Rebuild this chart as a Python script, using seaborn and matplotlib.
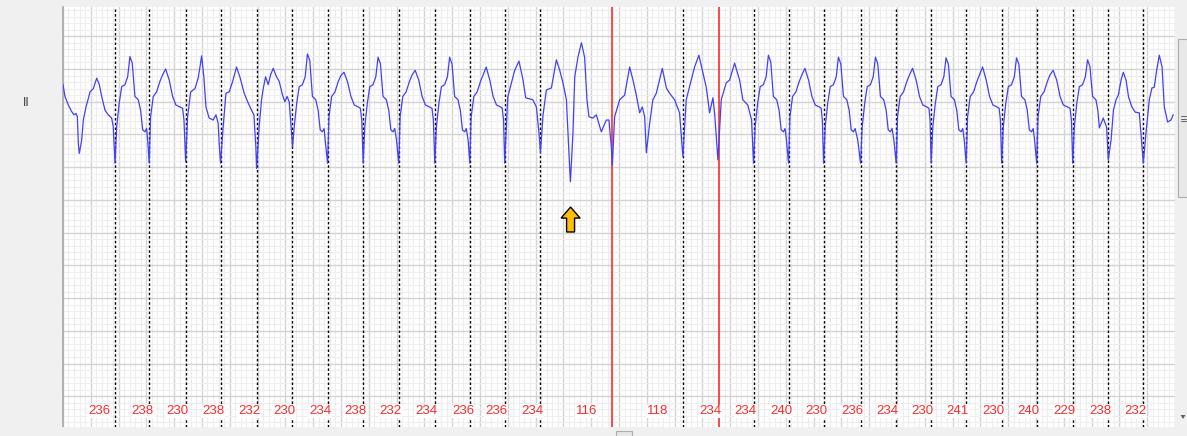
import numpy as np
import pandas as pd
import seaborn as sns
import matplotlib.pyplot as plt
from matplotlib.patches import Rectangle, FancyArrow, Polygon

sns.set_style("white")

# lead II trace: time in s (25 mm/s), amplitude in mV (10 mm/mV)
ecg_t = [
    0.000, 0.015, 0.039, 0.063, 0.080, 0.094, 0.104, 0.111,
    0.118, 0.135, 0.147, 0.166, 0.183, 0.195, 0.219, 0.243, 0.262, 0.279, 0.303, 0.326, 0.351, 0.362,
    0.375, 0.387, 0.405, 0.423, 0.446, 0.466, 0.482, 0.499, 0.518, 0.542, 0.559, 0.574, 0.590, 0.602, 0.610,
    0.621, 0.631, 0.650, 0.674, 0.698, 0.717, 0.739, 0.765, 0.789, 0.813, 0.842, 0.861, 0.871,
    0.883, 0.897, 0.919, 0.950, 0.973, 0.986, 0.998, 1.014, 1.029, 1.052, 1.081, 1.101, 1.117, 1.124,
    1.134, 1.153, 1.173, 1.196, 1.221, 1.249, 1.273, 1.304, 1.333, 1.357, 1.374, 1.388,
    1.393, 1.412, 1.429, 1.441, 1.458, 1.477, 1.494, 1.513, 1.537, 1.556, 1.580, 1.597, 1.613, 1.628, 1.645,
    1.652, 1.664, 1.682, 1.700, 1.723, 1.743, 1.759, 1.776, 1.795, 1.819, 1.836, 1.851, 1.867, 1.879, 1.887,
    1.904, 1.914, 1.933, 1.957, 1.981, 2.000, 2.022, 2.048, 2.072, 2.096, 2.125, 2.140, 2.150,
    2.160, 2.172, 2.190, 2.208, 2.231, 2.251, 2.267, 2.284, 2.303, 2.327, 2.344, 2.359, 2.375, 2.387, 2.400,
    2.416, 2.426, 2.445, 2.469, 2.493, 2.512, 2.534, 2.560, 2.584, 2.608, 2.637, 2.655, 2.665,
    2.675, 2.687, 2.705, 2.723, 2.746, 2.766, 2.782, 2.799, 2.818, 2.842, 2.859, 2.874, 2.890, 2.902, 2.915,
    2.927, 2.937, 2.956, 2.980, 3.004, 3.023, 3.045, 3.071, 3.095, 3.119, 3.148, 3.160, 3.170,
    3.178, 3.200, 3.250, 3.281, 3.310, 3.329, 3.380, 3.406, 3.425,
    3.435, 3.454, 3.478, 3.514, 3.550, 3.574, 3.597, 3.622, 3.646,
    3.651, 3.669, 3.682, 3.705, 3.730, 3.753, 3.770, 3.784, 3.813, 3.837, 3.873, 3.909, 3.928, 3.945,
    3.952, 3.969, 4.005, 4.041, 4.077, 4.101, 4.125, 4.149, 4.168, 4.185,
    4.197, 4.221, 4.244, 4.269, 4.312, 4.341, 4.364, 4.400, 4.436,
    4.460, 4.484, 4.520, 4.544, 4.575, 4.604, 4.628, 4.652, 4.676, 4.688,
    4.712, 4.736, 4.772, 4.796, 4.832, 4.868, 4.891, 4.927, 4.954,
    4.968, 4.980, 4.998, 5.016, 5.039, 5.059, 5.075, 5.092, 5.111, 5.135, 5.152, 5.167, 5.183, 5.195, 5.205,
    5.220, 5.230, 5.249, 5.273, 5.297, 5.316, 5.338, 5.364, 5.388, 5.412, 5.441, 5.455, 5.463,
    5.472, 5.484, 5.502, 5.520, 5.543, 5.563, 5.579, 5.596, 5.615, 5.639, 5.656, 5.671, 5.687, 5.699, 5.718,
    5.738, 5.750, 5.768, 5.786, 5.809, 5.829, 5.845, 5.862, 5.881, 5.905, 5.922, 5.937, 5.953, 5.965, 5.978,
    5.994, 6.004, 6.023, 6.047, 6.071, 6.090, 6.112, 6.138, 6.162, 6.186, 6.215, 6.230, 6.238,
    6.246, 6.258, 6.276, 6.294, 6.317, 6.337, 6.353, 6.370, 6.389, 6.413, 6.430, 6.445, 6.461, 6.473, 6.484,
    6.498, 6.508, 6.527, 6.551, 6.575, 6.594, 6.616, 6.642, 6.666, 6.690, 6.719, 6.735, 6.744,
    6.753, 6.765, 6.783, 6.801, 6.824, 6.844, 6.860, 6.877, 6.896, 6.920, 6.937, 6.952, 6.968, 6.980, 6.990,
    7.005, 7.015, 7.034, 7.058, 7.082, 7.101, 7.123, 7.149, 7.173, 7.197, 7.226, 7.245, 7.255,
    7.264, 7.276, 7.294, 7.312, 7.335, 7.355, 7.371, 7.388, 7.407, 7.431, 7.445, 7.456, 7.484, 7.508,
    7.520, 7.540, 7.557, 7.576, 7.592, 7.612, 7.628, 7.648, 7.666, 7.690, 7.714, 7.743, 7.755,
    7.772, 7.791, 7.815, 7.834, 7.851, 7.868, 7.887, 7.907, 7.923, 7.947, 7.971, 7.987,
]
ecg_mv = [
    0.27, 0.08, -0.05, -0.15, -0.20, -0.18, -0.23, -0.64,
    -0.79, -0.59, -0.28, -0.08, 0.05, 0.15, 0.20, 0.36, 0.26, 0.08, -0.13, -0.20, -0.25, -0.38,
    -0.94, -0.38, -0.02, 0.23, 0.26, 0.38, 0.69, 0.59, 0.08, 0.03, -0.13, -0.43, -0.46, -0.41, -0.59,
    -0.94, -0.23, 0.08, 0.15, 0.31, 0.41, 0.50, 0.33, 0.08, -0.05, -0.08, -0.10, -0.28,
    -0.92, -0.23, 0.15, 0.20, 0.36, 0.53, 0.70, 0.38, -0.08, -0.25, -0.28, -0.20, -0.33, -0.64,
    -0.94, -0.38, 0.13, 0.15, 0.31, 0.53, 0.38, 0.13, -0.02, -0.13, -0.20, -0.69,
    -1.02, -0.38, 0.03, 0.20, 0.38, 0.26, 0.41, 0.51, 0.38, 0.31, 0.10, 0.00, 0.08, 0.00, -0.48,
    -0.69, -0.38, -0.02, 0.23, 0.26, 0.38, 0.73, 0.63, 0.08, 0.03, -0.13, -0.43, -0.46, -0.41, -0.59,
    -0.94, -0.23, 0.08, 0.15, 0.31, 0.40, 0.45, 0.30, 0.08, -0.05, -0.08, -0.10, -0.28,
    -0.94, -0.38, -0.02, 0.23, 0.26, 0.38, 0.68, 0.58, 0.08, 0.03, -0.13, -0.43, -0.46, -0.41, -0.59,
    -0.94, -0.23, 0.08, 0.15, 0.31, 0.41, 0.48, 0.33, 0.08, -0.05, -0.08, -0.10, -0.28,
    -0.94, -0.38, -0.02, 0.23, 0.26, 0.38, 0.68, 0.58, 0.08, 0.03, -0.13, -0.43, -0.46, -0.41, -0.59,
    -0.94, -0.23, 0.08, 0.15, 0.31, 0.41, 0.53, 0.33, 0.08, -0.05, -0.08, -0.10, -0.28,
    -0.94, 0.07, 0.48, 0.62, 0.33, 0.06, 0.03, -0.08, -0.48,
    -0.78, -0.20, 0.18, 0.21, 0.64, 0.48, 0.29, 0.03, -1.04,
    -1.22, -0.48, 0.38, 0.68, 0.90, 0.68, 0.03, -0.23, -0.25, -0.20, -0.46, -0.28, -0.28, -0.69,
    -0.97, -0.23, 0.03, 0.10, 0.53, 0.33, 0.10, -0.17, -0.08, -0.23,
    -0.78, -0.33, 0.03, 0.13, 0.51, 0.21, 0.13, 0.03, -0.17,
    -0.84, 0.03, 0.33, 0.53, 0.71, 0.44, 0.22, -0.17, 0.06, -0.17,
    -0.89, 0.03, 0.29, 0.33, 0.59, 0.33, 0.03, -0.05, -0.28,
    -0.94, -0.38, -0.02, 0.23, 0.26, 0.38, 0.71, 0.61, 0.08, 0.03, -0.13, -0.43, -0.46, -0.41, -0.59,
    -0.94, -0.23, 0.08, 0.15, 0.31, 0.41, 0.51, 0.33, 0.08, -0.05, -0.08, -0.10, -0.28,
    -0.94, -0.38, -0.02, 0.23, 0.26, 0.38, 0.68, 0.58, 0.08, 0.03, -0.13, -0.43, -0.46, -0.41, -0.59,
    -0.94, -0.38, -0.02, 0.23, 0.26, 0.38, 0.68, 0.58, 0.08, 0.03, -0.13, -0.43, -0.46, -0.41, -0.59,
    -0.94, -0.23, 0.08, 0.15, 0.31, 0.41, 0.51, 0.33, 0.08, -0.05, -0.08, -0.10, -0.28,
    -0.94, -0.38, -0.02, 0.23, 0.26, 0.38, 0.67, 0.57, 0.08, 0.03, -0.13, -0.43, -0.46, -0.41, -0.59,
    -0.94, -0.23, 0.08, 0.15, 0.31, 0.41, 0.53, 0.33, 0.08, -0.05, -0.08, -0.10, -0.28,
    -0.94, -0.38, -0.02, 0.23, 0.26, 0.38, 0.67, 0.57, 0.08, 0.03, -0.13, -0.43, -0.46, -0.41, -0.59,
    -0.94, -0.23, 0.08, 0.15, 0.31, 0.41, 0.48, 0.33, 0.08, -0.05, -0.08, -0.10, -0.28,
    -0.94, -0.38, -0.02, 0.23, 0.26, 0.38, 0.64, 0.54, 0.08, 0.03, -0.13, -0.40, -0.25, -0.39,
    -0.89, -0.59, -0.13, 0.03, 0.10, 0.33, 0.45, 0.33, 0.07, -0.08, -0.16, -0.17, -0.48,
    -0.94, -0.48, 0.03, 0.21, 0.22, 0.48, 0.71, 0.53, -0.08, -0.31, -0.28, -0.20,
]

# detected beats (s) and the rate shown for each, in bpm
beat_t = [0.375, 0.621, 0.883, 1.134, 1.398, 1.649, 1.904, 2.160, 2.416, 2.675,
          2.927, 3.178, 3.435, 3.950, 4.460, 4.717, 4.968, 5.220, 5.472, 5.738,
          5.994, 6.246, 6.498, 6.753, 7.005, 7.264, 7.515, 7.767]
red_beats = [3.950, 4.717]
bpm = [236, 238, 230, 238, 232, 230, 234, 238, 232, 234, 236, 236, 234, 116,
       118, 234, 234, 240, 230, 236, 234, 230, 241, 230, 240, 229, 238, 232]
bpm_t = [0.260, 0.574, 0.827, 1.079, 1.338, 1.590, 1.849, 2.105, 2.359, 2.615,
         2.879, 3.119, 3.377, 3.766, 4.280, 4.657, 4.911, 5.168, 5.419, 5.678,
         5.934, 6.185, 6.437, 6.694, 6.948, 7.205, 7.461, 7.715]
bpm_mv = -4.73
arrow_t = 3.652
arrow_mv = -1.99

df = pd.DataFrame({"t": ecg_t, "mv": ecg_mv})

W, H = 1187, 436
fig = plt.figure(figsize=(W / 100, H / 100), dpi=100, facecolor="#f0f0f0")
ax = fig.add_axes([62.9 / W, 9 / H, 1112.1 / W, 420 / H])
ax.set_facecolor("white")

# ecg paper grid: 0.2 s / 0.5 mV big boxes, 0.04 s / 0.1 mV small ones
ax.set_xlim(0, 8.0)
ax.set_ylim(-4.97, 1.447)
ax.set_xticks(np.arange(0, 8.01, 0.2))
ax.set_xticks(np.arange(0, 8.01, 0.04), minor=True)
ax.set_yticks(np.arange(-4.5, 1.45, 0.5))
ax.set_yticks(np.arange(-4.9, 1.45, 0.1), minor=True)
ax.grid(which="minor", color="#eeeeee", lw=0.8)
ax.grid(which="major", color="#d3d3d3", lw=1.0)
ax.tick_params(which="both", length=0, labelbottom=False, labelleft=False)
ax.set_axisbelow(True)
for s in ax.spines.values():
    s.set_visible(False)
ax.spines["left"].set_visible(True)
ax.spines["left"].set_color("#a8a8a8")
ax.spines["left"].set_linewidth(1.2)

for t in beat_t:
    if t in red_beats:
        ax.axvline(t, color="#ff1a1a", lw=1.1, zorder=2)
    else:
        ax.axvline(t, color="black", lw=1.0, ls=(0, (1.8, 1.6)), zorder=2)

sns.lineplot(data=df, x="t", y="mv", sort=False, estimator=None,
             color="#4040ff", lw=0.9, ax=ax, zorder=3)
ax.set_xlabel("")
ax.set_ylabel("")

# rate labels sit on a white patch that hides the beat line behind them
for t, b in zip(bpm_t, bpm):
    ax.text(t, bpm_mv, str(b), color="#ff2a2a", fontsize=9.5,
            family="Liberation Sans", ha="center", va="center", zorder=4,
            bbox=dict(fc="white", ec="none", pad=0.6))

ax.add_patch(FancyArrow(arrow_t, arrow_mv, 0, 0.38, width=0.0575,
                        head_width=0.137, head_length=0.168,
                        length_includes_head=True, fc="#ffc000",
                        ec="black", lw=1.0, zorder=4))

fig.text(26.7 / W, 1 - 103 / H, "II", fontsize=8.5, color="#3d3d28",
         ha="center", va="center")


# window chrome (scrollbars), given in pixel boxes
def box(x0, y0, x1, y1, **kw):
    r = Rectangle((x0 / W, 1 - y1 / H), (x1 - x0) / W, (y1 - y0) / H,
                  transform=fig.transFigure, **kw)
    fig.add_artist(r)


box(62, 427, 1175, 436, fc="#f0f0f0", ec="none")
box(616, 431, 632, 437, fc="#e6e6e6", ec="#adadad", lw=0.8)
box(1175, 0, 1187, 436, fc="#f0f0f0", ec="none")
box(1177.5, 39, 1188, 197, fc="#e8e8e8", ec="#adadad", lw=0.8)
for gy in (116.5, 119, 121.5):
    fig.add_artist(plt.Line2D([1180.5 / W, 1185.5 / W], [1 - gy / H, 1 - gy / H],
                              transform=fig.transFigure, color="#606060", lw=0.7))
fig.add_artist(Polygon([[1180.5 / W, 1 - 415 / H], [1185.5 / W, 1 - 415 / H],
                        [1183 / W, 1 - 419 / H]], closed=True,
                       transform=fig.transFigure, fc="#606060", ec="none"))

fig.savefig("out.png", dpi=100, facecolor=fig.get_facecolor())
